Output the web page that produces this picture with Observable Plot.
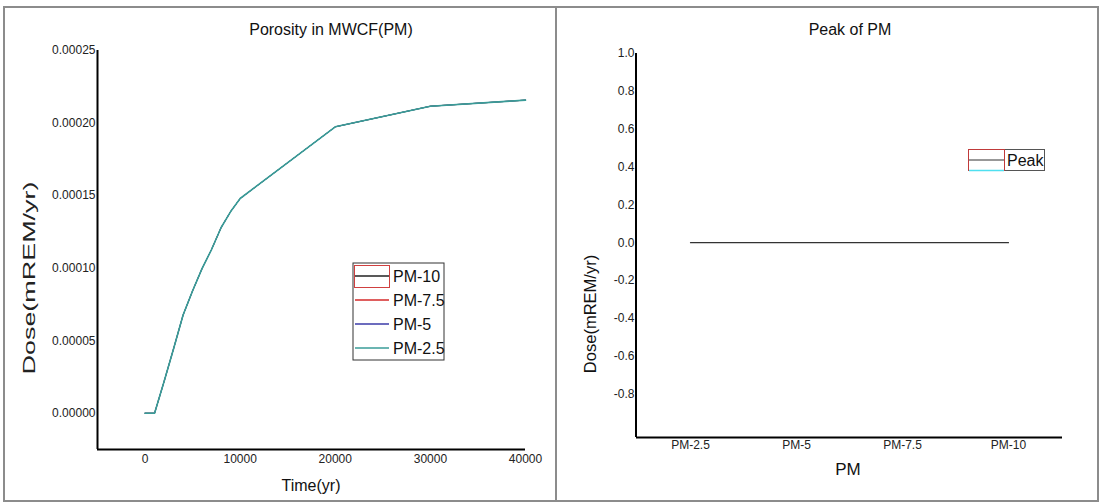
<!DOCTYPE html>
<html>
<head>
<meta charset="utf-8">
<script src="https://cdn.jsdelivr.net/npm/d3@7"></script>
<script src="https://cdn.jsdelivr.net/npm/@observablehq/plot@0.6"></script>
<style>
  html, body { margin: 0; padding: 0; background: #fff; }
  #wrap { position: relative; width: 1100px; height: 503px; background: #fff; overflow: hidden; font-family: "Liberation Sans", Arial, sans-serif; }
  .abs { position: absolute; top: 0; }
</style>
</head>
<body>
<div id="wrap">
  <div id="left" class="abs" style="left:0"></div>
  <div id="right" class="abs" style="left:556px"></div>
</div>
<script>
// ---------- Data ----------
const time = [0, 1000, 2000, 3000, 4000, 5000, 6000, 7000, 8000, 9000, 10000, 20000, 30000, 40000];
const pm10  = [0, 0, 0.0000218, 0.0000445, 0.0000677, 0.0000844, 0.0000998, 0.000113, 0.000128, 0.000139, 0.000148, 0.0001974, 0.0002116, 0.0002158];
const pm75  = [0, 0, 0.0000218, 0.0000445, 0.0000677, 0.0000844, 0.0000998, 0.000113, 0.000128, 0.000139, 0.000148, 0.0001974, 0.0002116, 0.0002158];
const pm5   = [0, 0, 0.0000218, 0.0000445, 0.0000677, 0.0000844, 0.0000998, 0.000113, 0.000128, 0.000139, 0.000148, 0.0001974, 0.0002116, 0.0002158];
const pm25  = [0, 0, 0.0000218, 0.0000445, 0.0000677, 0.0000844, 0.0000998, 0.000113, 0.000128, 0.000139, 0.000148, 0.0001974, 0.0002116, 0.0002158];
const seriesNames  = ["PM-10", "PM-7.5", "PM-5", "PM-2.5"];
const seriesColors = ["#222222", "#d42a2a", "#3b3ba8", "#3a9c98"];

const leftXTicks = [0, 10000, 20000, 30000, 40000];
const leftYTicks = [0, 0.00005, 0.00010, 0.00015, 0.00020, 0.00025];

const peakCats   = ["PM-2.5", "PM-5", "PM-7.5", "PM-10"];
const peakValues = [0, 0, 0, 0];
const rightYTicks = [1.0, 0.8, 0.6, 0.4, 0.2, 0.0, -0.2, -0.4, -0.6, -0.8];

// ---------- Build tables ----------
const seriesValues = [pm10, pm75, pm5, pm25];
const lineRows = [];
seriesNames.forEach((name, i) => {
  time.forEach((t, j) => lineRows.push({series: name, time: t, dose: seriesValues[i][j]}));
});
const topRows = lineRows.filter(d => d.series === "PM-2.5");
const peakRows = peakCats.map((c, i) => ({pm: c, peak: peakValues[i]}));

const fontStyle = {fontFamily: "'Liberation Sans', Arial, sans-serif", fontSize: "12px", color: "#222", background: "transparent", overflow: "visible"};

// ---------- Left chart ----------
const leftPlot = Plot.plot({
  width: 555, height: 503,
  marginLeft: 97, marginRight: 30, marginTop: 50, marginBottom: 54,
  style: fontStyle,
  x: {domain: [-5000, 40000]},
  y: {domain: [-0.000025, 0.00025]},
  color: {domain: seriesNames, range: seriesColors},
  marks: [
    Plot.axisY({ticks: leftYTicks, tickSize: 0, tickPadding: 2, tickFormat: d => d.toFixed(5), label: null}),
    Plot.axisX({ticks: leftXTicks, tickSize: 0, tickPadding: 5, tickFormat: d => String(d), label: null}),
    Plot.line(lineRows, {x: "time", y: "dose", z: "series", stroke: "series", strokeWidth: 0.8}),
    Plot.line(topRows, {x: "time", y: "dose", stroke: "series", strokeWidth: 1.6}),
    Plot.ruleX([-5000], {stroke: "#000", strokeWidth: 2}),
    Plot.ruleY([-0.000025], {stroke: "#000", strokeWidth: 2})
  ]
});
document.getElementById("left").appendChild(leftPlot);

// ---------- Right chart ----------
const leftAxisLine = (index, scales, values, dimensions) => {
  const {marginLeft, marginTop, height, marginBottom} = dimensions;
  const g = document.createElementNS("http://www.w3.org/2000/svg", "line");
  g.setAttribute("x1", marginLeft); g.setAttribute("x2", marginLeft);
  g.setAttribute("y1", marginTop); g.setAttribute("y2", height - marginBottom);
  g.setAttribute("stroke", "#000"); g.setAttribute("stroke-width", 2);
  return g;
};
const rightPlot = Plot.plot({
  width: 544, height: 503,
  marginLeft: 80, marginRight: 38, marginTop: 53, marginBottom: 66,
  style: fontStyle,
  x: {type: "point", domain: peakCats, padding: 0.5},
  y: {domain: [-1.03, 1.0]},
  marks: [
    Plot.axisY({ticks: rightYTicks, tickSize: 0, tickPadding: 2, tickFormat: d => d.toFixed(1), label: null}),
    Plot.axisX({tickSize: 0, tickPadding: 3, label: null}),
    Plot.line(peakRows, {x: "pm", y: "peak", stroke: "#333", strokeWidth: 1.2}),
    leftAxisLine,
    Plot.ruleY([-1.03], {stroke: "#000", strokeWidth: 2})
  ]
});
document.getElementById("right").appendChild(rightPlot);

// ---------- Overlay: frames, titles, axis labels, legends ----------
const ov = d3.select("#wrap").append("svg")
  .attr("width", 1100).attr("height", 503)
  .style("position", "absolute").style("left", 0).style("top", 0)
  .style("pointer-events", "none")
  .style("font-family", "'Liberation Sans', Arial, sans-serif");

// panel borders
ov.append("rect").attr("x", 4).attr("y", 7).attr("width", 552).attr("height", 494)
  .attr("fill", "none").attr("stroke", "#8c8c8c").attr("stroke-width", 2);
ov.append("rect").attr("x", 556).attr("y", 7).attr("width", 542).attr("height", 494)
  .attr("fill", "none").attr("stroke", "#8c8c8c").attr("stroke-width", 2);

function txt(x, y, s, size, opts = {}) {
  const t = ov.append("text").attr("x", x).attr("y", y).attr("dy", "0.35em")
    .attr("font-size", size).attr("fill", opts.fill || "#111")
    .attr("text-anchor", opts.anchor || "middle").text(s);
  if (opts.rotate) t.attr("transform", `rotate(-90,${x},${y})`);
  if (opts.len) t.attr("textLength", opts.len).attr("lengthAdjust", "spacingAndGlyphs");
  return t;
}
txt(331, 29, "Porosity in MWCF(PM)", 16);
txt(850, 29, "Peak of PM", 16);
txt(29, 278, "Dose(mREM/yr)", 17, {rotate: true, len: 193, fill: "#222"});
txt(590, 314, "Dose(mREM/yr)", 16.5, {rotate: true});
txt(311, 485, "Time(yr)", 16);
txt(848, 469, "PM", 17);

// left legend
ov.append("rect").attr("x", 353).attr("y", 263).attr("width", 91).attr("height", 97)
  .attr("fill", "#fff").attr("stroke", "#333").attr("stroke-width", 1);
const legY = [276, 300, 324, 348];
seriesNames.forEach((name, i) => {
  ov.append("line").attr("x1", 355).attr("x2", 389).attr("y1", legY[i]).attr("y2", legY[i])
    .attr("stroke", seriesColors[i]).attr("stroke-width", 1.3);
  txt(393, legY[i], name, 16, {anchor: "start"});
});
ov.append("rect").attr("x", 354.5).attr("y", 265.5).attr("width", 35).attr("height", 22)
  .attr("fill", "none").attr("stroke", "#d04040").attr("stroke-width", 1);

// right legend
ov.append("rect").attr("x", 968.5).attr("y", 149.5).attr("width", 76).attr("height", 21)
  .attr("fill", "#fff").attr("stroke", "#555").attr("stroke-width", 1);
ov.append("rect").attr("x", 968.5).attr("y", 149.5).attr("width", 36).attr("height", 21)
  .attr("fill", "none").attr("stroke", "#c03a3a").attr("stroke-width", 1);
ov.append("line").attr("x1", 969).attr("x2", 1004).attr("y1", 160).attr("y2", 160)
  .attr("stroke", "#333").attr("stroke-width", 1.2);
ov.append("line").attr("x1", 969).attr("x2", 1004).attr("y1", 170.5).attr("y2", 170.5)
  .attr("stroke", "#4fe0f0").attr("stroke-width", 1.5);
txt(1007, 160, "Peak", 16, {anchor: "start"});
</script>
</body>
</html>
